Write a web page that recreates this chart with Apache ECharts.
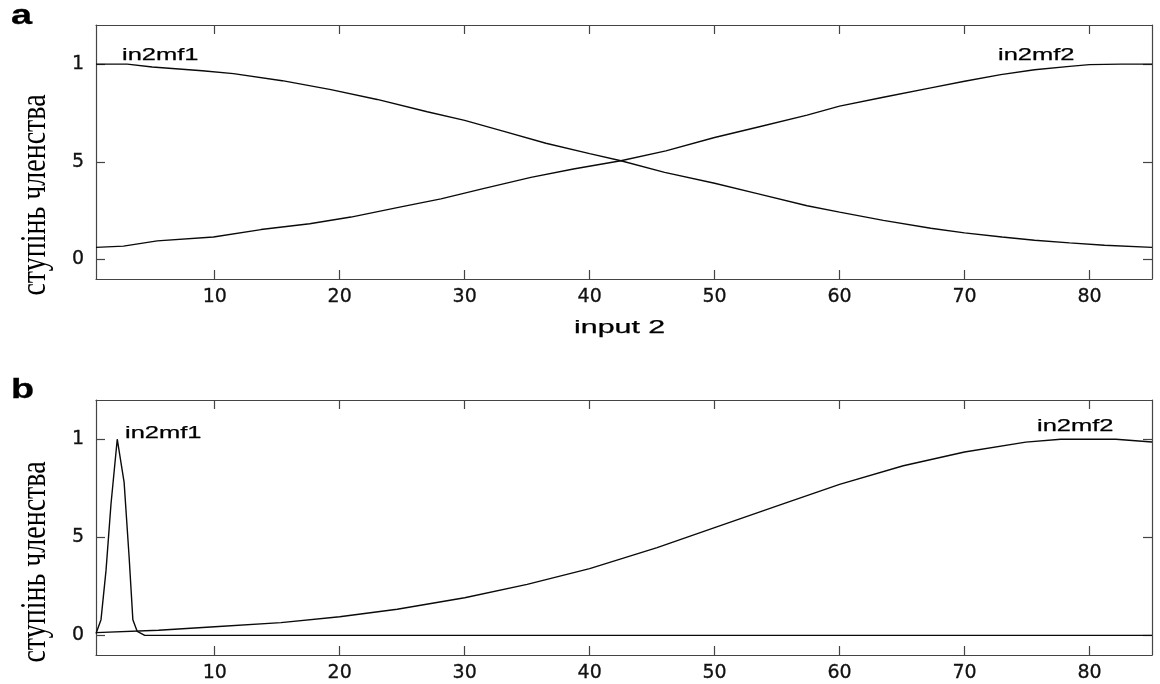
<!DOCTYPE html>
<html><head><meta charset="utf-8">
<script src="https://cdn.jsdelivr.net/npm/echarts@6/dist/echarts.min.js"></script>
<style>html,body{margin:0;padding:0;background:#fff}#c{width:1160px;height:684px}</style>
</head><body><div id="c"></div>
<script>
// ---- data ----
const xRange = [0.5, 85];
const yRange = [-0.1, 1.2];
const xTickValues = [10, 20, 30, 40, 50, 60, 70, 80];
const yTickValues = [0, 0.5, 1];
const yTickLabels = ['0', '5', '1'];
const mfNames = ['in2mf1', 'in2mf2'];
const xAxisTitle = 'input 2';
const yAxisTitle = 'ступінь членства';
const panelLetters = ['a', 'b'];

// panel a
const aIn2mf1 = [[0.5,1.0],[3,1.0],[5,0.985],[9,0.966],[11.5,0.951],[15.4,0.915],[19.3,0.869],[23,0.819],[27,0.756],[30,0.712],[33,0.658],[36.5,0.595],[40,0.542],[42.5,0.505],[46,0.446],[50,0.39],[53.5,0.336],[57.4,0.275],[60,0.242],[63.5,0.2],[67.3,0.16],[70,0.136],[73,0.115],[75.6,0.098],[78.4,0.085],[81.2,0.073],[85,0.062]];
const aIn2mf2 = [[0.5,0.062],[2.7,0.068],[5.4,0.095],[9.9,0.115],[13.7,0.153],[17.6,0.183],[20.9,0.217],[24.8,0.268],[28.1,0.31],[31.4,0.361],[35.3,0.42],[38.7,0.463],[42.5,0.505],[46.1,0.556],[50,0.624],[53.5,0.678],[57.4,0.739],[60,0.785],[63.5,0.83],[67.3,0.878],[70,0.912],[72.9,0.946],[75.6,0.971],[78.4,0.988],[80,0.997],[82.5,1.0],[85,1.0]];
// panel b
const bIn2mf1 = [[0.5,0.01],[0.9,0.08],[1.3,0.33],[1.7,0.67],[2.2,1.0],[2.75,0.78],[3.15,0.4],[3.45,0.08],[3.8,0.02],[4.4,0],[85,0]];
const bIn2mf2 = [[0.5,0.014],[5.5,0.026],[10,0.044],[15.3,0.065],[20,0.095],[24.6,0.133],[30,0.192],[35,0.26],[40,0.34],[45.4,0.447],[50,0.549],[55.3,0.667],[60,0.77],[65.1,0.865],[70,0.935],[74.9,0.985],[77.7,1.0],[82.1,1.0],[85,0.986]];

// ---- chart ----
const axisColor = '#444';
const lineColor = '#0a0a0a';
const tickFont = 'DejaVu Sans';

function xAx(grid, pos, labels) {
  return {
    type: 'value', gridIndex: grid, position: pos, min: xRange[0], max: xRange[1],
    axisLine: { show: true, onZero: false, lineStyle: { color: axisColor, width: 1.2 } },
    axisTick: { show: true, inside: true, length: 9, customValues: xTickValues, lineStyle: { color: axisColor, width: 1.2 } },
    splitLine: { show: false },
    axisLabel: { show: labels, customValues: xTickValues, margin: 9, color: '#111', fontFamily: tickFont, fontSize: 19,
      textBorderColor: '#111', textBorderWidth: 0.3 }
  };
}
function yAx(grid, pos, labels) {
  return {
    type: 'value', gridIndex: grid, position: pos, min: yRange[0], max: yRange[1],
    axisLine: { show: true, onZero: false, lineStyle: { color: axisColor, width: 1.2 } },
    axisTick: { show: true, inside: true, length: 9, customValues: yTickValues, lineStyle: { color: axisColor, width: 1.2 } },
    splitLine: { show: false },
    axisLabel: { show: labels, customValues: yTickValues, margin: 12, color: '#111', fontFamily: tickFont, fontSize: 19,
      textBorderColor: '#111', textBorderWidth: 0.3,
      formatter: v => { const i = yTickValues.indexOf(v); return i >= 0 ? yTickLabels[i] : String(v); } }
  };
}
function line(data, xi, yi) {
  return { type: 'line', data: data, xAxisIndex: xi, yAxisIndex: yi, symbol: 'none', showSymbol: false,
    lineStyle: { color: lineColor, width: 1.4 }, silent: true, animation: false };
}
function label(text, x, y, size, bold, sx) {
  return { type: 'text', x: x, y: y, scaleX: sx, silent: true,
    style: { text: text, x: 0, y: 0, fill: '#000', stroke: '#000', lineWidth: bold ? 0.3 : 0.25,
      font: (bold ? 'bold ' : '') + size + 'px "Liberation Sans", Arial, sans-serif',
      textAlign: 'left', textVerticalAlign: 'bottom' } };
}
function yTitle(cy) {
  return { type: 'text', x: 36, y: cy, rotation: Math.PI / 2, scaleY: 1.25, silent: true,
    style: { text: yAxisTitle, x: 0, y: 0, fill: '#000',
      font: '28px "Liberation Serif", "Times New Roman", serif',
      textAlign: 'center', textVerticalAlign: 'middle' } };
}

const chart = echarts.init(document.getElementById('c'), null, { renderer: 'canvas' });
chart.setOption({
  animation: false,
  backgroundColor: '#fff',
  grid: [
    { left: 96, top: 25, width: 1056, height: 254 },
    { left: 96, top: 400, width: 1056, height: 255 }
  ],
  xAxis: [xAx(0, 'bottom', true), xAx(0, 'top', false), xAx(1, 'bottom', true), xAx(1, 'top', false)],
  yAxis: [yAx(0, 'left', true), yAx(0, 'right', false), yAx(1, 'left', true), yAx(1, 'right', false)],
  series: [
    line(aIn2mf1, 0, 0), line(aIn2mf2, 0, 0),
    line(bIn2mf1, 2, 2), line(bIn2mf2, 2, 2)
  ],
  graphic: [
    label(panelLetters[0], 11, 30, 27, true, 1.4),
    label(panelLetters[1], 11, 404, 27, true, 1.4),
    label(mfNames[0], 122, 64, 17, false, 1.5),
    label(mfNames[1], 998, 64, 17, false, 1.5),
    label(mfNames[0], 125, 442, 17, false, 1.5),
    label(mfNames[1], 1037, 435, 17, false, 1.5),
    label(xAxisTitle, 574, 337, 19, false, 1.6),
    yTitle(195),
    yTitle(562)
  ]
});
</script></body></html>
